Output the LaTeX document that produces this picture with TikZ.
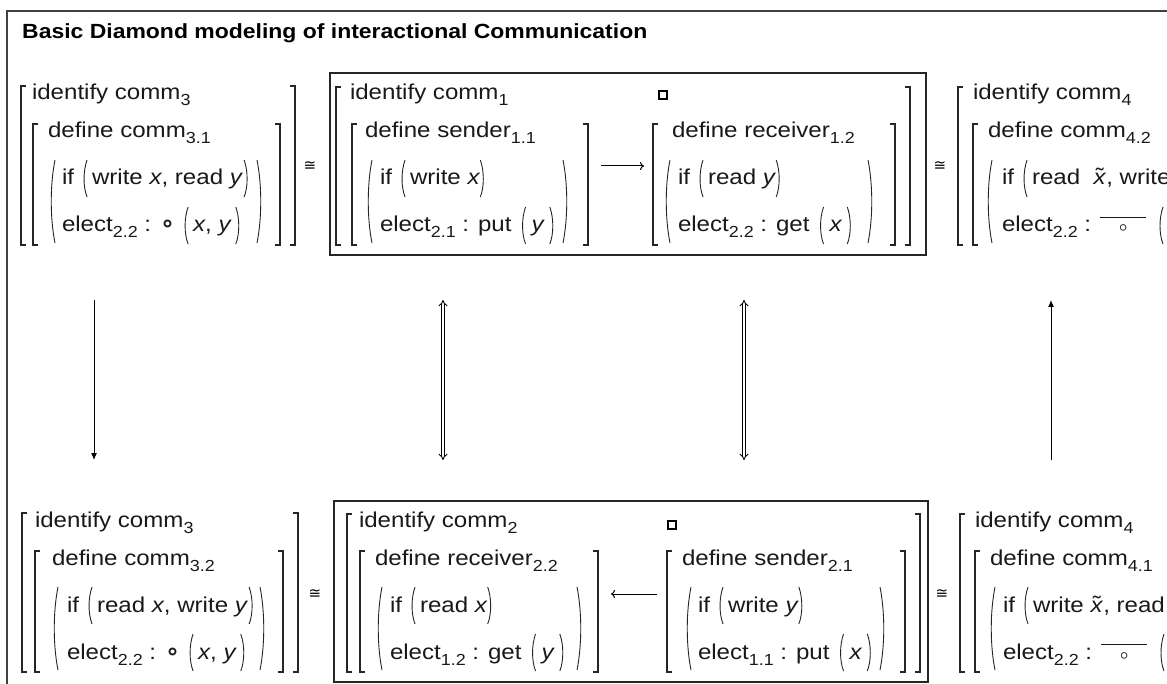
\documentclass[tikz,border=0pt]{standalone}
\usepackage{fontspec}
\setmainfont[FakeStretch=1.12]{Liberation Sans}
\newfontfamily\djv{DejaVu Sans}
\usetikzlibrary{arrows.meta,calc}
\newcommand\sbs[1]{\raisebox{-6pt}{\fontsize{16}{16}\selectfont#1}}
\newcommand\bkL[3]{\draw[brk] ({#1+5},#2) -- (#1,#2) -- (#1,#3) -- ({#1+5},#3);}
\newcommand\bkR[3]{\draw[brk] ({#1-5},#2) -- (#1,#2) -- (#1,#3) -- ({#1-5},#3);}
\newcommand\pnL[3]{\draw[par] ({#1+5},#2) .. controls (#1,{#2+(#3-#2)*0.3}) and (#1,{#3-(#3-#2)*0.3}) .. ({#1+5},#3);}
\newcommand\pnR[3]{\draw[par] ({#1-5},#2) .. controls (#1,{#2+(#3-#2)*0.3}) and (#1,{#3-(#3-#2)*0.3}) .. ({#1-5},#3);}
\newcommand\pnAround[3]{%
 \draw[par] ($(#1.base west)+({4-#2},-25)$) .. controls ($(#1.base west)+(-#2,-14)$) and ($(#1.base west)+(-#2,2)$) .. ($(#1.base west)+({4-#2},12)$);
 \draw[par] ($(#1.base east)+({#3-4},-25)$) .. controls ($(#1.base east)+(#3,-14)$) and ($(#1.base east)+(#3,2)$) .. ($(#1.base east)+({#3-4},12)$);}
\newcommand\pnBefore[2]{%
 \draw[par] ($(#1.base west)+({4-#2},-25)$) .. controls ($(#1.base west)+(-#2,-14)$) and ($(#1.base west)+(-#2,2)$) .. ($(#1.base west)+({4-#2},12)$);}
\newcommand\pnAt[2]{\draw[par] ({#1+4},{#2-25}) .. controls (#1,{#2-14}) and (#1,{#2+2}) .. ({#1+4},{#2+12});}
\newcommand\ocirc{{\djv\bfseries\fontsize{24}{24}\selectfont ∘}}
\newcommand\xtl{\ooalign{\textit{x}\cr\hidewidth\raisebox{1pt}{\char"02DC}\hidewidth\cr}}
\newcommand\barcirc{{\boldmath$\overline{\vphantom{t}\hspace{19pt}{\scriptstyle\circ}\hspace{19pt}}$}}
\tikzset{
 txt/.style={anchor=base west, inner sep=0pt, outer sep=0pt, font=\fontsize{21.5}{24}\selectfont, text=black!90},
 congs/.style={inner sep=0pt, font=\djv\fontsize{15}{15}\selectfont},
 brk/.style={line width=1.4pt, black!85},
 par/.style={line width=0.9pt, black!85},
 boxl/.style={line width=1.5pt, black!85},
 sq/.style={draw, line width=1.2pt, minimum size=8pt, inner sep=0pt},
 varr/.style={line width=1pt, -{Latex[length=7pt,width=6pt]}},
 darr/.style={double, double distance=2.2pt, line width=0.9pt, {Implies}-{Implies}},
 harr/.style={line width=1pt, -{To[length=4pt,width=8pt]}}
}
\begin{document}
\begin{tikzpicture}[x=1pt,y=-1pt]
\clip (0,0) rectangle (1167,684);
\fill[white] (0,0) rectangle (1167,684);
% frame
\draw[line width=1.6pt, black!75] (7,700) -- (7,11) -- (1200,11);
\node[anchor=base west, inner sep=0pt, font=\bfseries\fontsize{20.5}{24}\selectfont] (title) at (22,39) {Basic Diamond modeling of interactional Communication};

% ===== top row, block A =====
\bkL{21}{86}{245} \bkR{295}{86}{245}
\bkL{33}{124}{245} \bkR{280}{124}{245}
\pnL{50}{160}{243} \pnR{262}{160}{243}
\node[txt] (A1id) at (32,100) {identify comm\sbs{3}};
\node[txt] (A1def) at (48,138) {define comm\sbs{3.1}};
\node[txt] (A1if) at (62,185) {if};
\node[txt] (A1ifc) at ([xshift=18pt]A1if.base east) {write \textit{x}, read \textit{y}};
\pnAround{A1ifc}{9}{5}
\node[txt] (A1el) at (62,232) {elect\sbs{2.2} : \ocirc};
\node[txt] (A1elc) at ([xshift=18pt]A1el.base east) {\textit{x}, \textit{y}};
\pnAround{A1elc}{9}{8}
\node[congs] (A1cong) at (310,166) {≅};

% ===== top row, block B (boxed) =====
\draw[boxl] (330,73) rectangle (926,255);
\bkL{336}{87}{245} \bkR{910}{87}{245}
\bkL{352}{124}{245} \bkR{588}{124}{245}
\pnL{367}{160}{243} \pnR{568}{160}{243}
\node[txt] (B1id) at (350,100) {identify comm\sbs{1}};
\node[txt] (B1ld) at (365,138) {define sender\sbs{1.1}};
\node[txt] (B1lif) at (380,185) {if};
\node[txt] (B1lifc) at ([xshift=18pt]B1lif.base east) {write \textit{x}};
\pnAround{B1lifc}{9}{4}
\node[txt] (B1lel) at (380,232) {elect\sbs{2.1} : put};
\node[txt] (B1lelc) at ([xshift=20pt]B1lel.base east) {\textit{y}};
\pnAround{B1lelc}{10}{9}
\node[sq] (B1sq) at (663,95) {};
\coordinate (B1a) at (601,166);
\coordinate (B1b) at (644,166);
\draw[harr] (B1a) -- (B1b);
\bkL{653}{124}{245} \bkR{895}{124}{245}
\pnL{665}{160}{243} \pnR{873}{160}{243}
\node[txt] (B1rd) at (672,138) {define receiver\sbs{1.2}};
\node[txt] (B1rif) at (678,185) {if};
\node[txt] (B1rifc) at ([xshift=18pt]B1rif.base east) {read \textit{y}};
\pnAround{B1rifc}{9}{4}
\node[txt] (B1rel) at (678,232) {elect\sbs{2.2} : get};
\node[txt] (B1relc) at ([xshift=20pt]B1rel.base east) {\textit{x}};
\pnAround{B1relc}{10}{9}
\node[congs] (B1cong) at (940,166) {≅};

% ===== top row, block C =====
\bkL{958}{87}{245}
\bkL{973}{124}{245}
\pnL{987}{160}{243}
\node[txt] (C1id) at (973,100) {identify comm\sbs{4}};
\node[txt] (C1def) at (988,138) {define comm\sbs{4.2}};
\node[txt] (C1if) at (1002,185) {if};
\node[txt] (C1ifc) at ([xshift=18pt]C1if.base east) {read\ \ \xtl, write};
\pnBefore{C1ifc}{9}
\node[txt] (C1el) at (1002,232) {elect\sbs{2.2} : \barcirc};
\pnAt{1159}{232}

% ===== bottom row, block A' =====
\bkL{22}{513}{672} \bkR{298}{513}{672}
\bkL{35}{551}{672} \bkR{283}{551}{672}
\pnL{53}{587}{670} \pnR{265}{587}{670}
\node[txt] (A2id) at (35,527) {identify comm\sbs{3}};
\node[txt] (A2def) at (52,565) {define comm\sbs{3.2}};
\node[txt] (A2if) at (67,612) {if};
\node[txt] (A2ifc) at ([xshift=18pt]A2if.base east) {read \textit{x}, write \textit{y}};
\pnAround{A2ifc}{9}{5}
\node[txt] (A2el) at (67,659) {elect\sbs{2.2} : \ocirc};
\node[txt] (A2elc) at ([xshift=18pt]A2el.base east) {\textit{x}, \textit{y}};
\pnAround{A2elc}{9}{8}
\node[congs] (A2cong) at (315,594) {≅};

% ===== bottom row, block B' (boxed) =====
\draw[boxl] (334,501) rectangle (928,682);
\bkL{347}{514}{672} \bkR{920}{514}{672}
\bkL{360}{551}{672} \bkR{598}{551}{672}
\pnL{377}{587}{670} \pnR{582}{587}{670}
\node[txt] (B2id) at (359,527) {identify comm\sbs{2}};
\node[txt] (B2ld) at (375,565) {define receiver\sbs{2.2}};
\node[txt] (B2lif) at (390,612) {if};
\node[txt] (B2lifc) at ([xshift=18pt]B2lif.base east) {read \textit{x}};
\pnAround{B2lifc}{9}{4}
\node[txt] (B2lel) at (390,659) {elect\sbs{1.2} : get};
\node[txt] (B2lelc) at ([xshift=20pt]B2lel.base east) {\textit{y}};
\pnAround{B2lelc}{10}{9}
\node[sq] (B2sq) at (672,525) {};
\coordinate (B2a) at (657,594);
\coordinate (B2b) at (611,594);
\draw[harr] (B2a) -- (B2b);
\bkL{667}{551}{672} \bkR{905}{551}{672}
\pnL{686}{587}{670} \pnR{885}{587}{670}
\node[txt] (B2rd) at (682,565) {define sender\sbs{2.1}};
\node[txt] (B2rif) at (698,612) {if};
\node[txt] (B2rifc) at ([xshift=18pt]B2rif.base east) {write \textit{y}};
\pnAround{B2rifc}{9}{4}
\node[txt] (B2rel) at (698,659) {elect\sbs{1.1} : put};
\node[txt] (B2relc) at ([xshift=20pt]B2rel.base east) {\textit{x}};
\pnAround{B2relc}{10}{9}
\node[congs] (B2cong) at (942,594) {≅};

% ===== bottom row, block C' =====
\bkL{960}{514}{672}
\bkL{975}{551}{672}
\pnL{990}{587}{670}
\node[txt] (C2id) at (975,527) {identify comm\sbs{4}};
\node[txt] (C2def) at (990,565) {define comm\sbs{4.1}};
\node[txt] (C2if) at (1003,612) {if};
\node[txt] (C2ifc) at ([xshift=18pt]C2if.base east) {write \xtl, read};
\pnBefore{C2ifc}{9}
\node[txt] (C2el) at (1003,659) {elect\sbs{2.2} : \barcirc};
\pnAt{1160}{659}

% ===== vertical connectors =====
\coordinate (v1t) at (94,300);  \coordinate (v1b) at (94,460);
\coordinate (v2t) at (443,300); \coordinate (v2b) at (443,460);
\coordinate (v3t) at (744,300); \coordinate (v3b) at (744,460);
\coordinate (v4t) at (1051,300); \coordinate (v4b) at (1051,460);
\draw[varr] (v1t) -- (v1b);
\draw[darr] (v2t) -- (v2b);
\draw[darr] (v3t) -- (v3b);
\draw[varr] (v4b) -- (v4t);
\end{tikzpicture}
\end{document}
